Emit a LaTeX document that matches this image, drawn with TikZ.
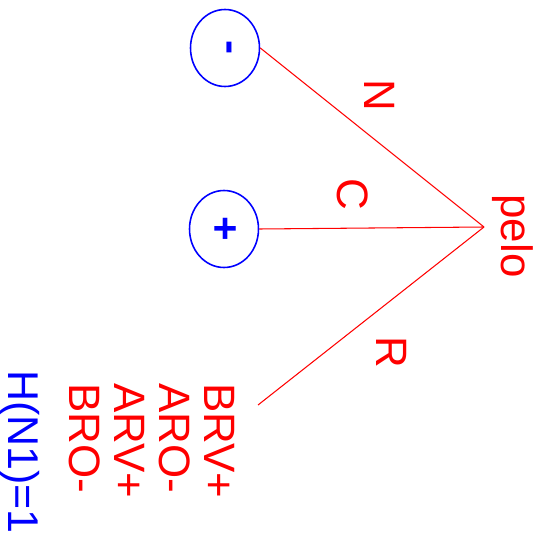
\documentclass[tikz,border=0pt]{standalone}
\usepackage{fontspec}
\setmainfont{Liberation Sans}
\usetikzlibrary{positioning,shapes.geometric}
\definecolor{wire}{HTML}{FF0000}
\definecolor{pole}{HTML}{0000FF}

\begin{document}
\begin{tikzpicture}[x=0.02cm, y=-0.02cm,
  every node/.style={inner sep=0pt},
  charge/.style={
    draw=pole, ellipse, line width=0.9pt, rotate=-90,
    text=pole, font=\fontsize{24}{28}\selectfont\bfseries,
    minimum width=1.54cm, minimum height=1.38cm,
  },
  lbl/.style={text=wire, rotate=-90, font=\fontsize{25}{25.6}\selectfont},
  link/.style={wire, line width=0.6pt},
]
  \useasboundingbox (0,0) rectangle (546,533);

  % poles
  \node[charge] (minus) at (225,48)  {-};
  \node[charge] (plus)  at (224,229) {+};

  % meeting point and free end
  \coordinate (hub)  at (484,227);
  \coordinate (rend) at (258,405);

  \node[lbl] (pelo) at (513,236) {pelo};
  \node[lbl] (nlbl) at (380,95)  {N};
  \node[lbl] (clbl) at (353,194) {C};
  \node[lbl] (rlbl) at (392,352) {R};

  \node[lbl, align=left, anchor=north west] (codes) at (235,383)
    {BRV+\\ARO-\\ARV+\\BRO-};
  \node[lbl, text=pole, font=\fontsize{24.5}{25.6}\selectfont] (hval) at (20,452) {H(N1)=1};

  \draw[link] (minus.north) -- (hub);
  \draw[link] (plus.north)  -- (hub);
  \draw[link] (hub) -- (rend);
\end{tikzpicture}
\end{document}
